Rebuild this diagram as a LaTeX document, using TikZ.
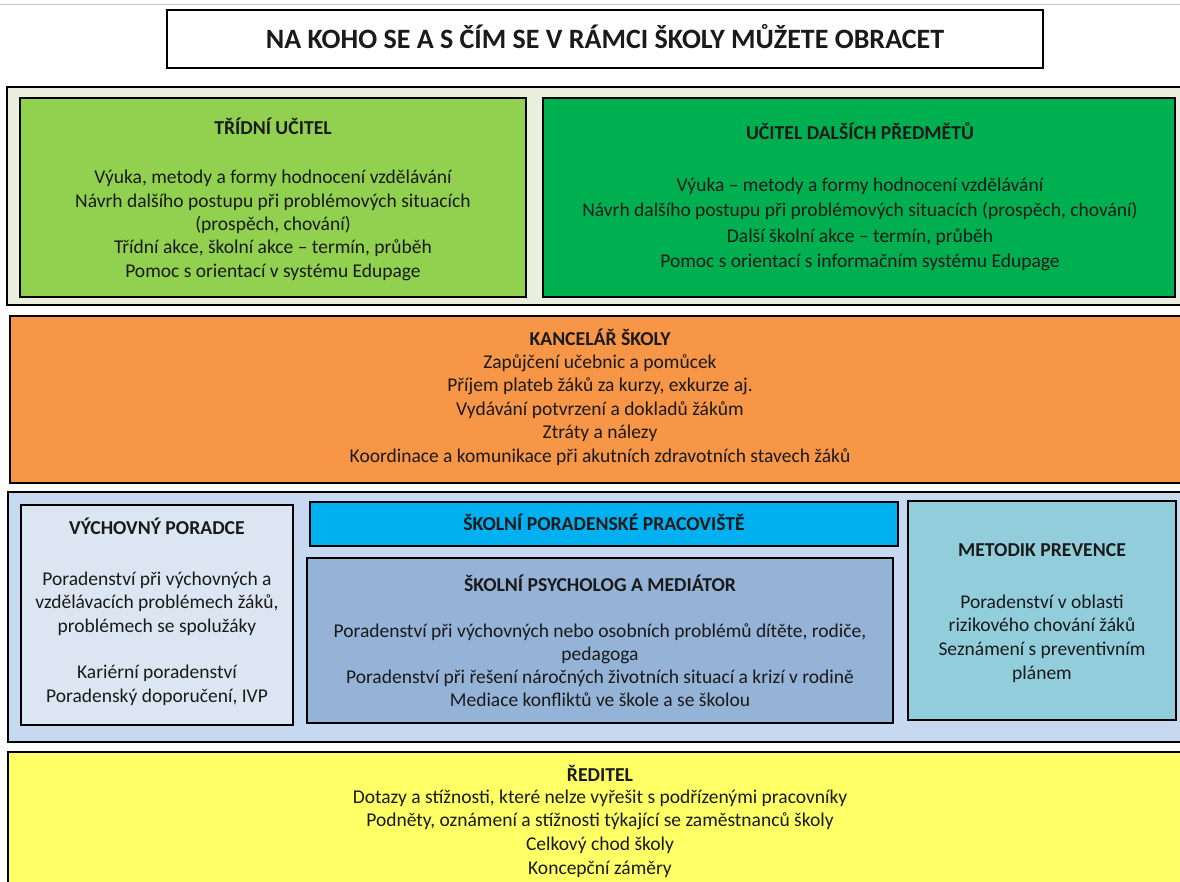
\documentclass[tikz,border=0pt]{standalone}
\usepackage{fontspec}
\setmainfont{Carlito}
\definecolor{frameA}{HTML}{EBF0DE}
\definecolor{tridni}{HTML}{92D050}
\definecolor{dalsi}{HTML}{00B050}
\definecolor{kanc}{HTML}{F79646}
\definecolor{frameB}{HTML}{C6D9F1}
\definecolor{vychov}{HTML}{DCE6F2}
\definecolor{prac}{HTML}{00B0F0}
\definecolor{psych}{HTML}{95B3D7}
\definecolor{metod}{HTML}{92CDDC}
\definecolor{redit}{HTML}{FFFF66}
\definecolor{txt}{HTML}{1A1A1A}
\tikzset{
  panel/.style={draw=black, line width=2.6pt, rectangle, inner sep=0pt, outer sep=0pt},
  hd/.style={inner sep=0pt, text=txt, font=\bfseries\fontsize{19.7}{22}\selectfont},
  bd/.style={inner sep=0pt, text=txt, align=center, font=\fontsize{19.5}{#1}\selectfont},
  bd/.default=23.3
}
\begin{document}
\begin{tikzpicture}[x=1pt,y=-1pt]
\useasboundingbox (0,0) rectangle (1180,881);
\clip (0,0) rectangle (1180,881);
\fill[white] (0,0) rectangle (1180,881);
\draw[line width=1pt, black!22] (0,4) coordinate (tl) -- (1180,4) coordinate (tr);
% title
\node[panel, fill=white, minimum width=876pt, minimum height=58pt] (title) at (605,39) {};
\node[inner sep=0pt, text=txt, font=\bfseries\fontsize{28}{30}\selectfont] (titletext) at (605,37) {NA KOHO SE A S ČÍM SE V RÁMCI ŠKOLY MŮŽETE OBRACET};
% teachers frame
\node[panel, fill=frameA, minimum width=1183pt, minimum height=218pt] (frameA) at (598.5,196) {};
\node[panel, fill=tridni, minimum width=506pt, minimum height=199pt] (tridni) at (273,197.5) {};
\node[panel, fill=dalsi, minimum width=632pt, minimum height=199pt] (dalsi) at (859,197.5) {};
\node[hd] (tridnih) at (273,126) {TŘÍDNÍ UČITEL};
\node[bd] (tridnib) at (273,225.5) {Výuka, metody a formy hodnocení vzdělávání\\Návrh dalšího postupu při problémových situacích\\(prospěch, chování)\\Třídní akce, školní akce – termín, průběh\\Pomoc s orientací v systému Edupage};
\node[hd] (dalsih) at (860,131) {UČITEL DALŠÍCH PŘEDMĚTŮ};
\node[bd=25.6] (dalsib) at (860,224.5) {Výuka – metody a formy hodnocení vzdělávání\\Návrh dalšího postupu při problémových situacích (prospěch, chování)\\Další školní akce – termín, průběh\\Pomoc s orientací s informačním systému Edupage};
% office
\node[panel, fill=kanc, minimum width=1180pt, minimum height=167pt] (kanc) at (600,399.5) {};
\node[hd] (kanch) at (600,337) {KANCELÁŘ ŠKOLY};
\node[bd=23.5] (kancb) at (600,410) {Zapůjčení učebnic a pomůcek\\Příjem plateb žáků za kurzy, exkurze aj.\\Vydávání potvrzení a dokladů žákům\\Ztráty a nálezy\\Koordinace a komunikace při akutních zdravotních stavech žáků};
% counselling frame
\node[panel, fill=frameB, minimum width=1182pt, minimum height=250pt] (frameB) at (599,617) {};
\node[panel, fill=vychov, minimum width=272pt, minimum height=220pt] (vychov) at (157,615) {};
\node[panel, fill=prac, minimum width=588pt, minimum height=44pt] (prac) at (604,524) {};
\node[panel, fill=psych, minimum width=586pt, minimum height=165pt] (psych) at (600,640.5) {};
\node[panel, fill=metod, minimum width=268pt, minimum height=219pt] (metod) at (1042,610.5) {};
\node[hd] (vychovh) at (157,526) {VÝCHOVNÝ PORADCE};
\node[bd=23.4] (vychovb) at (157,638.5) {Poradenství při výchovných a\\vzdělávacích problémech žáků,\\problémech se spolužáky\\[23.4pt]Kariérní poradenství\\Poradenský doporučení, IVP};
\node[hd] (prach) at (604,522) {ŠKOLNÍ PORADENSKÉ PRACOVIŠTĚ};
\node[hd] (psychh) at (600,583) {ŠKOLNÍ PSYCHOLOG A MEDIÁTOR};
\node[bd=23] (psychb) at (600,665.5) {Poradenství při výchovných nebo osobních problémů dítěte, rodiče,\\pedagoga\\Poradenství při řešení náročných životních situací a krizí v rodině\\Mediace konfliktů ve škole a se školou};
\node[hd] (metodh) at (1042,550) {METODIK PREVENCE};
\node[bd=23.7] (metodb) at (1042,638.5) {Poradenství v oblasti\\rizikového chování žáků\\Seznámení s preventivním\\plánem};
% director
\node[panel, fill=redit, minimum width=1182pt, minimum height=148pt] (redit) at (599,826) {};
\node[hd] (redith) at (600,773) {ŘEDITEL};
\node[bd=23.7] (reditb) at (600,833.5) {Dotazy a stížnosti, které nelze vyřešit s podřízenými pracovníky\\Podněty, oznámení a stížnosti týkající se zaměstnanců školy\\Celkový chod školy\\Koncepční záměry};
\end{tikzpicture}
\end{document}
